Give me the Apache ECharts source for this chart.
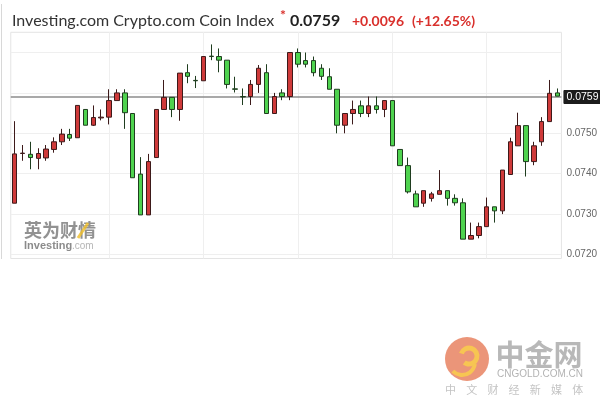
<!DOCTYPE html>
<html>
<head>
<meta charset="utf-8">
<script src="https://cdn.jsdelivr.net/npm/echarts@6/dist/echarts.min.js"></script>
<style>
html,body{margin:0;padding:0;background:#fff;}
#chart{width:600px;height:409px;}
</style>
</head>
<body>
<div id="chart"></div>
<script>
// ---- data ----
const opens  = [0.07327,0.07450,0.07448,0.07438,0.07439,0.07460,0.07479,0.07497,0.07489,0.07559,
                0.07520,0.07538,0.07540,0.07581,0.07600,0.07549,0.07399,0.07298,0.07440,0.07559,
                0.07589,0.07559,0.07650,0.07631,0.07630,0.07691,0.07690,0.07681,0.07610,0.07591,
                0.07591,0.07621,0.07650,0.07549,0.07600,0.07591,0.07700,0.07680,0.07680,0.07661,
                0.07640,0.07609,0.07520,0.07549,0.07568,0.07549,0.07568,0.07559,0.07581,0.07460,
                0.07420,0.07350,0.07327,0.07339,0.07349,0.07358,0.07339,0.07328,0.07238,0.07247,
                0.07269,0.07318,0.07308,0.07398,0.07469,0.07519,0.07430,0.07479,0.07529,0.07600];
const closes = [0.07449,0.07451,0.07440,0.07450,0.07461,0.07479,0.07498,0.07488,0.07569,0.07520,
                0.07539,0.07540,0.07581,0.07600,0.07551,0.07390,0.07298,0.07430,0.07559,0.07589,
                0.07559,0.07649,0.07641,0.07630,0.07690,0.07690,0.07681,0.07621,0.07609,0.07590,
                0.07621,0.07661,0.07549,0.07591,0.07591,0.07700,0.07671,0.07671,0.07650,0.07641,
                0.07609,0.07520,0.07549,0.07559,0.07549,0.07568,0.07559,0.07581,0.07469,0.07420,
                0.07355,0.07318,0.07358,0.07350,0.07358,0.07339,0.07328,0.07238,0.07247,0.07269,
                0.07318,0.07308,0.07409,0.07479,0.07519,0.07430,0.07469,0.07529,0.07599,0.07592];
const lows   = [0.07327,0.07432,0.07411,0.07411,0.07432,0.07452,0.07471,0.07481,0.07489,0.07520,
                0.07518,0.07532,0.07522,0.07581,0.07511,0.07390,0.07298,0.07298,0.07440,0.07559,
                0.07540,0.07531,0.07624,0.07612,0.07630,0.07681,0.07651,0.07611,0.07601,0.07570,
                0.07570,0.07600,0.07549,0.07549,0.07582,0.07582,0.07663,0.07663,0.07641,0.07632,
                0.07609,0.07500,0.07500,0.07522,0.07540,0.07540,0.07549,0.07540,0.07469,0.07420,
                0.07351,0.07318,0.07318,0.07331,0.07349,0.07321,0.07321,0.07238,0.07238,0.07240,
                0.07269,0.07279,0.07300,0.07398,0.07469,0.07393,0.07421,0.07469,0.07529,0.07592];
const highs  = [0.07530,0.07471,0.07479,0.07463,0.07471,0.07490,0.07511,0.07511,0.07569,0.07559,
                0.07569,0.07559,0.07609,0.07609,0.07609,0.07549,0.07441,0.07449,0.07559,0.07632,
                0.07589,0.07649,0.07671,0.07642,0.07690,0.07720,0.07710,0.07681,0.07640,0.07611,
                0.07632,0.07669,0.07671,0.07600,0.07609,0.07700,0.07710,0.07700,0.07690,0.07671,
                0.07661,0.07609,0.07549,0.07581,0.07581,0.07591,0.07591,0.07581,0.07581,0.07460,
                0.07440,0.07358,0.07358,0.07355,0.07409,0.07358,0.07349,0.07339,0.07279,0.07279,
                0.07341,0.07318,0.07409,0.07489,0.07551,0.07519,0.07479,0.07540,0.07632,0.07611];
const categories = opens.map((_, i) => 'P' + (i + 1));
const yTickValues = [0.0720, 0.0730, 0.0740, 0.0750];
const yGridValues = [0.0720, 0.0730, 0.0740, 0.0750, 0.0760, 0.0770];
const vGridCategories = ['P13', 'P25', 'P37', 'P49', 'P61'];
const lastPrice = 0.0759;
const titleText = 'Investing.com Crypto.com Coin Index';
const priceText = '0.0759';
const changeText = '+0.0096';
const changePctText = '(+12.65%)';

// ---- chart ----
const candleData = opens.map((o, i) => [o, closes[i], lows[i], highs[i]]);
const chart = echarts.init(document.getElementById('chart'), null, {renderer: 'canvas'});

const gridMarks = [];
yGridValues.forEach(v => gridMarks.push({yAxis: v}));
vGridCategories.forEach(c => gridMarks.push({xAxis: c}));

const wm = [];
const cjk = '中文财经新媒体';
for (let i = 0; i < cjk.length; i++) {
  wm.push({type: 'text', x: 450.5 + i * 21.2, y: 390, z: 1,
    style: {text: cjk[i], fill: '#c4c4c4', font: '11px "Noto Sans CJK SC"', textAlign: 'center', textVerticalAlign: 'middle'}});
}

const option = {
  animation: false,
  backgroundColor: '#fff',
  grid: {left: 10.75, right: 36.95, top: 32.3, bottom: 150.46, show: true, borderColor: '#e4e4e4', borderWidth: 1, backgroundColor: 'transparent'},
  xAxis: {
    type: 'category', data: categories, boundaryGap: true,
    axisLine: {show: false}, axisTick: {show: false}, axisLabel: {show: false}, splitLine: {show: false}
  },
  yAxis: {
    type: 'value', position: 'right', min: 0.0719, max: 0.0775, scale: true,
    axisLine: {show: false}, axisTick: {show: false},
    splitLine: {show: false},
    axisLabel: {
      customValues: yTickValues, color: '#666', fontSize: 10, fontFamily: 'Liberation Sans', margin: 5,
      formatter: v => v.toFixed(4)
    }
  },
  series: [
    {
      type: 'line', data: closes, z: 1, silent: true, showSymbol: false, symbol: 'none',
      lineStyle: {opacity: 0, width: 0},
      markLine: {z: 1, silent: true, symbol: ['none', 'none'], animation: false, precision: 6, label: {show: false},
        lineStyle: {color: '#efefef', width: 1, type: 'solid'}, data: gridMarks}
    },
    {
      type: 'candlestick',
      data: candleData,
      barWidth: 5, z: 5,
      itemStyle: {
        color: '#cf3a3a', color0: '#4fd34f',
        borderColor: '#3d1a1a', borderColor0: '#1f3d1f', borderWidth: 1
      }
    },
    {
      type: 'line', data: closes, z: 2, silent: true, showSymbol: false, symbol: 'none',
      lineStyle: {opacity: 0, width: 0},
      markLine: {
        z: 2, silent: true, symbol: ['none', 'none'], animation: false, precision: 6,
        lineStyle: {color: '#8c8c8c', width: 1.5, type: 'solid'},
        label: {
          show: true, position: 'end', distance: 2,
          formatter: () => lastPrice.toFixed(4),
          backgroundColor: '#1c1c1c', color: '#fff', fontSize: 10.5,
          fontFamily: 'Liberation Sans', padding: [2, 3, 1, 3], borderRadius: 1
        },
        data: [{yAxis: lastPrice}]
      }
    }
  ],
  graphic: [
    {type: 'line', shape: {x1: 1.5, y1: 4, x2: 1.5, y2: 259}, style: {stroke: '#d8d8d8', lineWidth: 1}},
    {type: 'text', x: 12, y: 21, style: {text: titleText, fill: '#333', font: '16px Lato', textVerticalAlign: 'middle'}},
    {type: 'text', x: 280, y: 15, style: {text: '*', fill: '#d9302c', font: 'bold 14px Lato', textVerticalAlign: 'middle'}},
    {type: 'text', x: 290, y: 21, style: {text: priceText, fill: '#222', font: 'bold 16px Lato', textVerticalAlign: 'middle'}},
    {type: 'text', x: 352, y: 21, style: {text: changeText, fill: '#d9302c', font: 'bold 14px Lato', textVerticalAlign: 'middle'}},
    {type: 'text', x: 412, y: 21, style: {text: changePctText, fill: '#d9302c', font: 'bold 14px Lato', textVerticalAlign: 'middle'}},
    // Investing watermark
    {type: 'text', x: 24, y: 230, z: 1, style: {text: '英为财情', fill: 'rgba(110,110,110,0.75)', font: 'bold 18px "Noto Sans CJK SC"', textVerticalAlign: 'middle'}},
    {type: 'line', z: 1, shape: {x1: 78, y1: 238, x2: 88, y2: 223}, style: {stroke: 'rgba(240,190,40,0.8)', lineWidth: 3}},
    {type: 'text', x: 24, y: 245.5, z: 1, style: {text: 'Investing', fill: 'rgba(110,110,110,0.8)', font: 'bold 11px "Liberation Sans"', textVerticalAlign: 'middle'}},
    {type: 'text', x: 72, y: 246, z: 1, style: {text: '.com', fill: 'rgba(150,150,150,0.7)', font: '10px "Liberation Sans"', textVerticalAlign: 'middle'}},
    // CNGOLD logo
    {type: 'circle', shape: {cx: 467, cy: 359, r: 22}, style: {fill: '#e9896a', opacity: 0.9}},
    {type: 'arc', shape: {cx: 469, cy: 356, r: 8, startAngle: -Math.PI * 0.9, endAngle: Math.PI * 0.7}, style: {stroke: '#f7c552', lineWidth: 5, fill: 'none'}},
    {type: 'arc', shape: {cx: 462, cy: 362, r: 13, startAngle: Math.PI * 0.05, endAngle: Math.PI * 0.75}, style: {stroke: '#f7c552', lineWidth: 4, fill: 'none'}},
    {type: 'text', x: 539, y: 355, style: {text: '中金网', fill: '#b8b8b8', font: 'bold 29px "Noto Sans CJK SC"', textAlign: 'center', textVerticalAlign: 'middle'}},
    {type: 'text', x: 540, y: 374, style: {text: 'CNGOLD.COM.CN', fill: '#b3b3b3', font: '10px "Liberation Sans"', textAlign: 'center', textVerticalAlign: 'middle'}}
  ].concat(wm)
};
chart.setOption(option);
</script>
</body>
</html>
